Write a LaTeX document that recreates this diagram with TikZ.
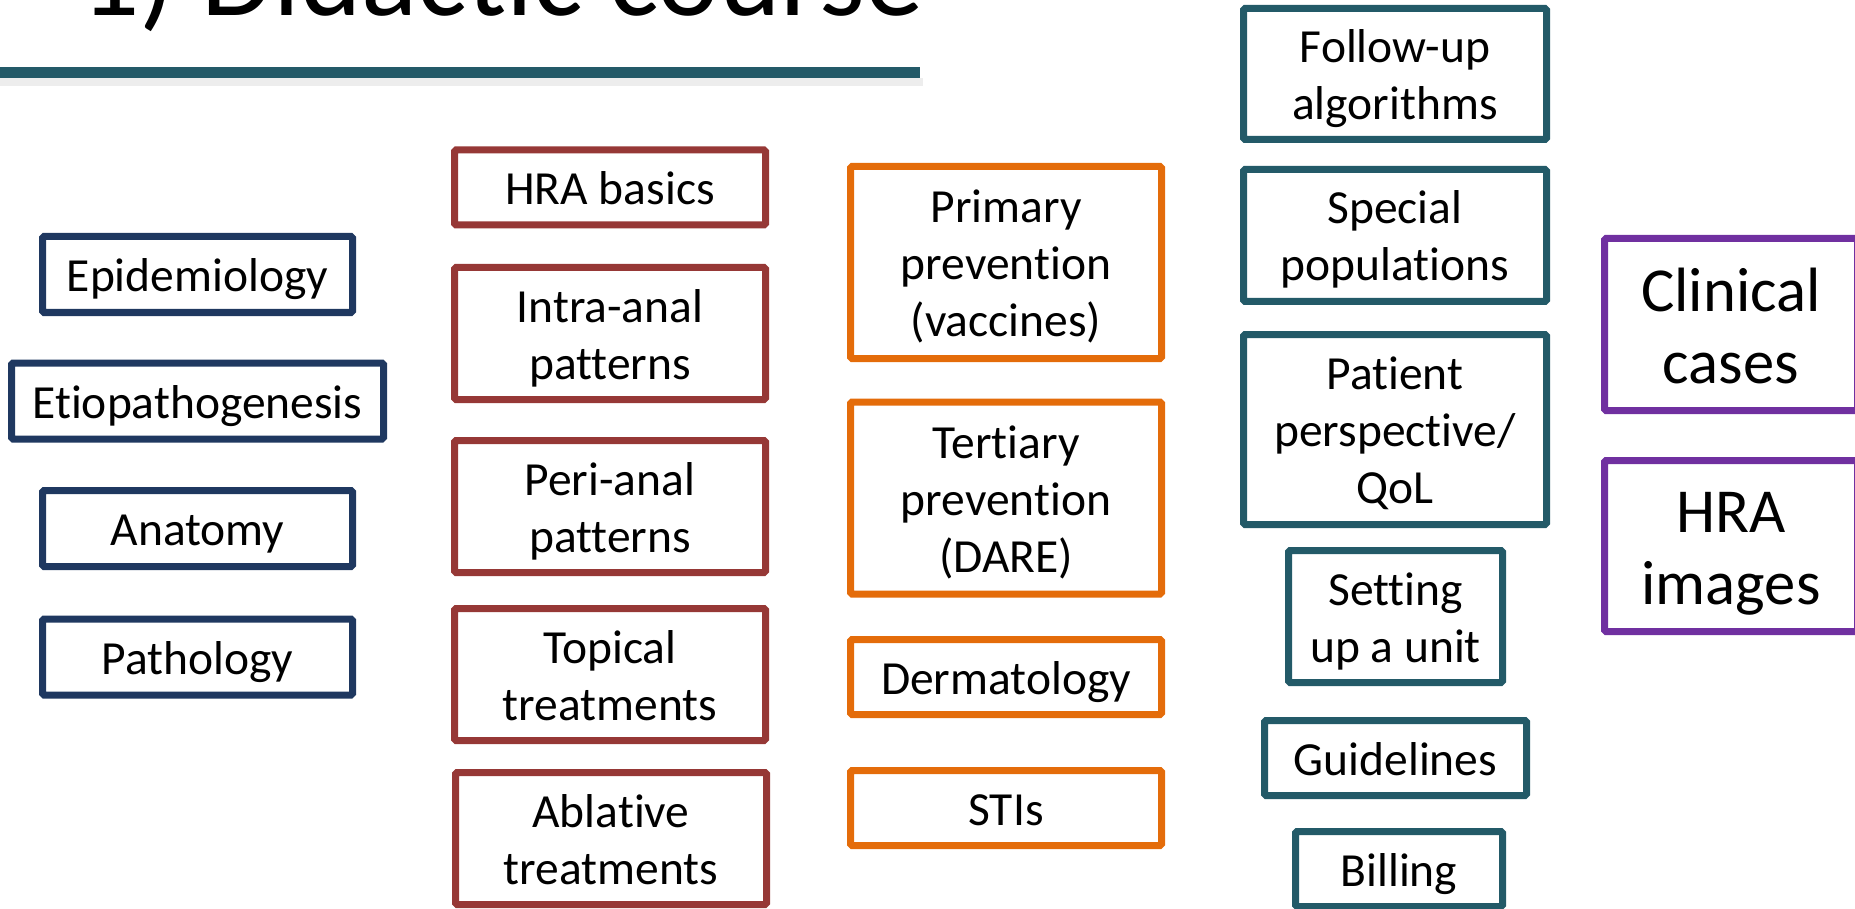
\documentclass[tikz,border=0pt]{standalone}
\usepackage{fontspec}
\setmainfont{Carlito}[Ligatures=NoCommon]
\usetikzlibrary{
	backgrounds,
	positioning,
}
\definecolor{basicblue}{RGB}{31,56,96}
\definecolor{hrared}{RGB}{150,56,54}
\definecolor{prevorange}{RGB}{228,108,10}
\definecolor{practeal}{RGB}{35,90,104}
\definecolor{casepurple}{RGB}{112,48,160}
\tikzset{
	topic/.style={draw=#1, line width=7pt, rounded corners=1.5pt, inner sep=0pt, align=center,
		font=\fontsize{47.5}{57}\selectfont, text height=46pt, text depth=12pt},
	twoline/.style={topic=#1, text height=103pt},
	threeline/.style={topic=#1, text height=160pt},
	bigtopic/.style={topic=#1, font=\fontsize{62.6}{72}\selectfont, text height=133pt, text depth=16pt},
}

\begin{document}
\begin{tikzpicture}[x=1pt, y=-1pt]
			\useasboundingbox (0,0) rectangle (1855,909);
			\node[anchor=base west, inner sep=0pt, font=\fontsize{117}{120}\selectfont] (title) at (80,16) {1) Didactic course};
			\fill[black, opacity=.07] (0,78) rectangle (923,86);
			\fill[practeal] (0,67) rectangle (920,78);
			\node[topic=basicblue, minimum width=310pt, minimum height=76pt] (epi) at (197.5,274.5) {Epidemiology};
			\node[topic=basicblue, minimum width=372pt, minimum height=76pt] (etio) at (197.5,401) {Etiopathogenesis};
			\node[topic=basicblue, minimum width=310pt, minimum height=76pt] (anat) at (197.5,528.5) {Anatomy};
			\node[topic=basicblue, minimum width=310pt, minimum height=76pt] (path) at (197.5,657) {Pathology};
			\node[topic=hrared, minimum width=311pt, minimum height=75pt] (basics) at (610,187.5) {HRA basics};
			\node[twoline=hrared, minimum width=311pt, minimum height=132pt] (intra) at (610,333.5) {Intra-anal\\patterns};
			\node[twoline=hrared, minimum width=311pt, minimum height=132pt] (peri) at (610,506.5) {Peri-anal\\patterns};
			\node[twoline=hrared, minimum width=311pt, minimum height=132pt] (topical) at (610,674.5) {Topical\\treatments};
			\node[twoline=hrared, minimum width=311pt, minimum height=132pt] (ablative) at (611,838.5) {Ablative\\treatments};
			\node[threeline=prevorange, minimum width=311pt, minimum height=192pt] (primary) at (1006,262.5) {Primary\\prevention\\(vaccines)};
			\node[threeline=prevorange, minimum width=311pt, minimum height=192pt] (tertiary) at (1006,498) {Tertiary\\prevention\\(DARE)};
			\node[topic=prevorange, minimum width=311pt, minimum height=75pt] (derm) at (1006,677) {Dermatology};
			\node[topic=prevorange, minimum width=311pt, minimum height=75pt] (stis) at (1006,808) {STIs};
			\node[twoline=practeal, minimum width=303pt, minimum height=131pt] (followup) at (1395,74) {Follow-up\\algorithms};
			\node[twoline=practeal, minimum width=303pt, minimum height=132pt] (special) at (1395,235.5) {Special\\populations};
			\node[threeline=practeal, minimum width=303pt, minimum height=190pt] (patient) at (1395,429.5) {Patient\\perspective/\\QoL};
			\node[twoline=practeal, minimum width=214pt, minimum height=132pt] (unit) at (1395.5,616.5) {Setting\\up a unit};
			\node[topic=practeal, minimum width=262pt, minimum height=75pt] (guide) at (1395.5,758) {Guidelines};
			\node[topic=practeal, minimum width=207pt, minimum height=75pt] (billing) at (1399,869) {Billing};
			\node[bigtopic=casepurple, minimum width=253pt, minimum height=172pt] (cases) at (1731,324.5) {Clinical\\cases};
			\node[bigtopic=casepurple, minimum width=253pt, minimum height=171pt] (images) at (1731,546) {HRA\\images};
		\end{tikzpicture}
\end{document}
